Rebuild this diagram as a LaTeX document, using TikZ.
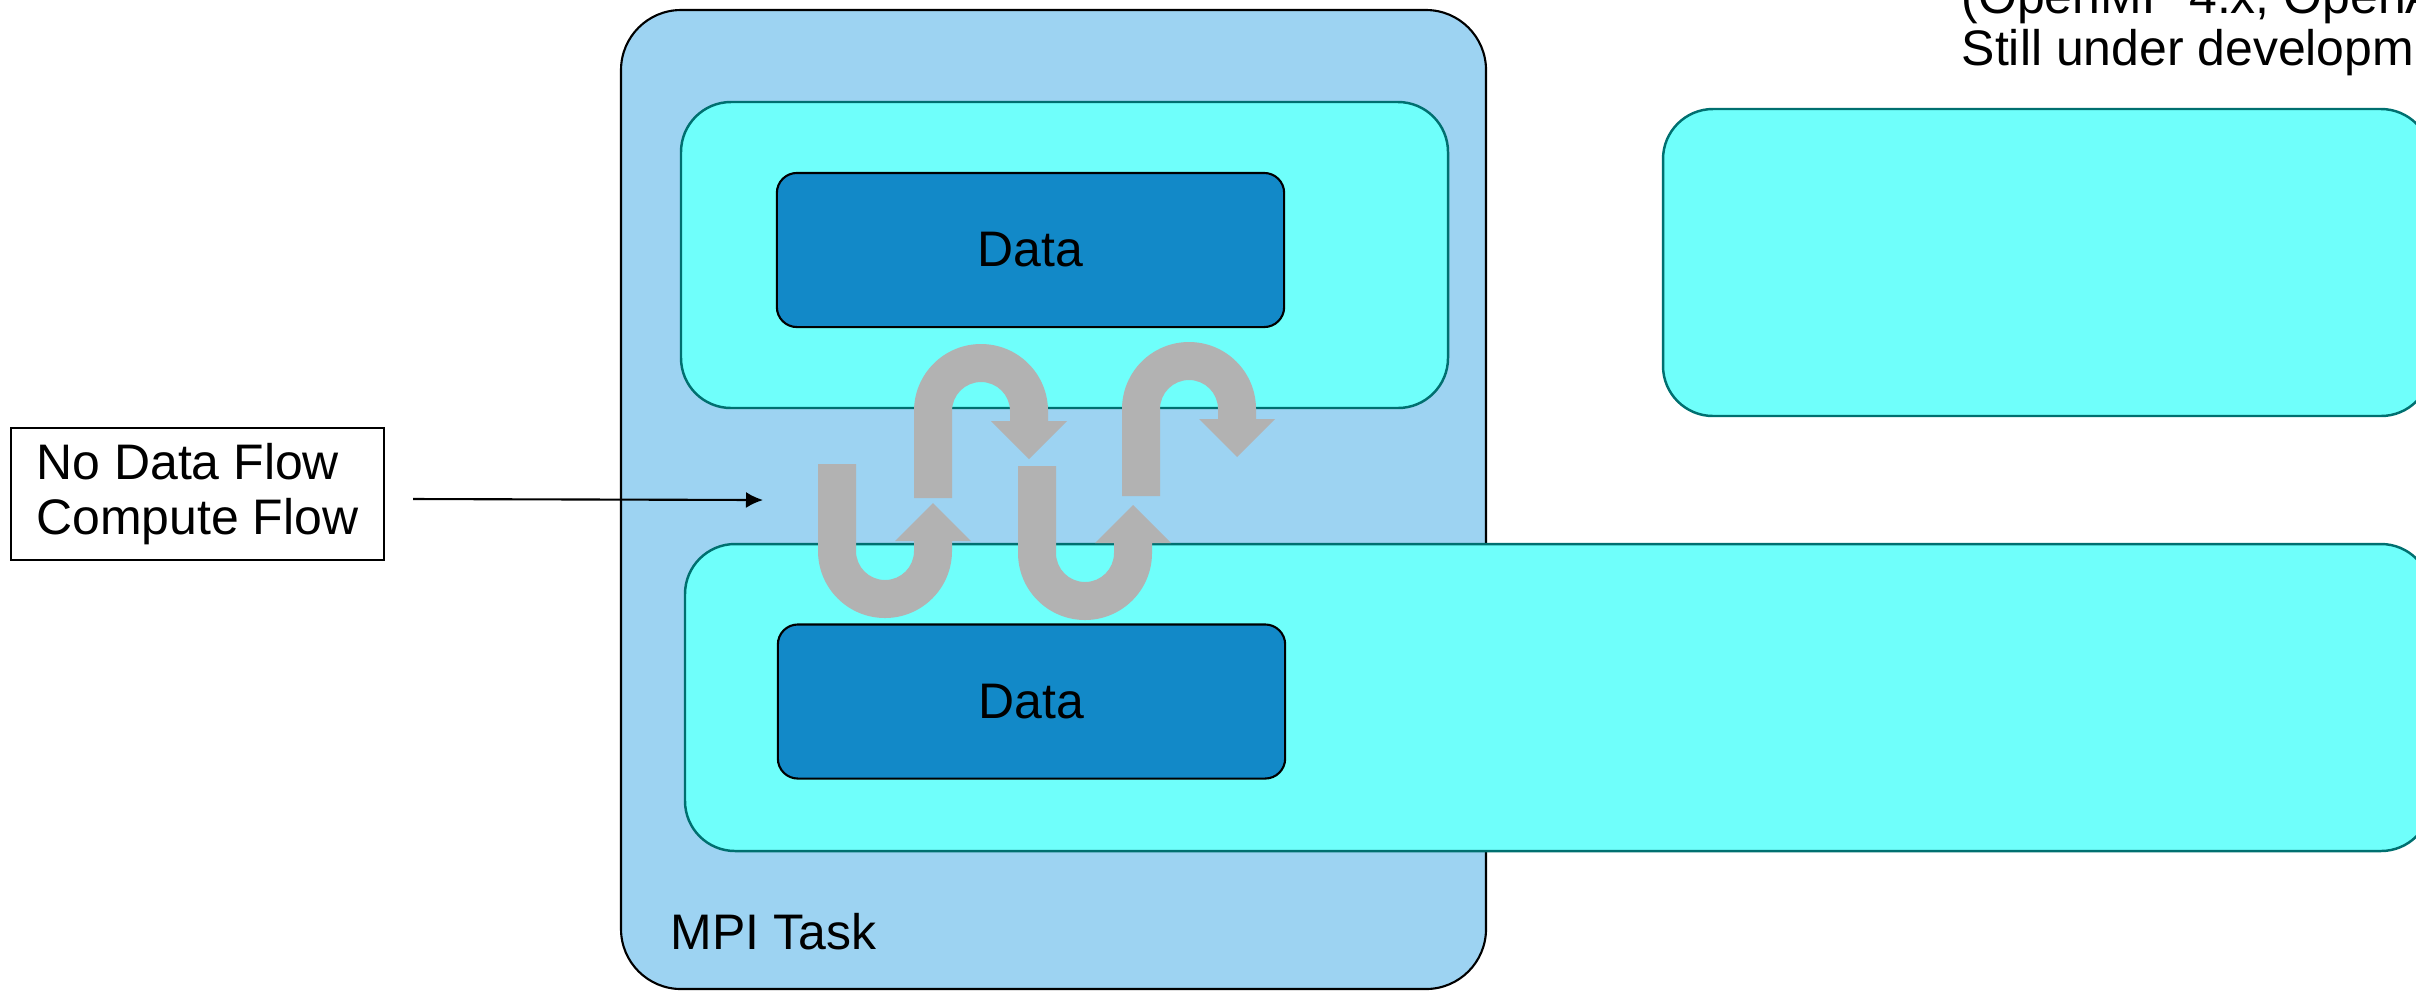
\documentclass[tikz,border=0pt]{standalone}
\usepackage{fontspec}
\setmainfont{Liberation Sans}
\usetikzlibrary{arrows.meta}

\definecolor{taskblue}{RGB}{157,211,242}
\definecolor{coreaqua}{RGB}{111,255,251}
\definecolor{coreedge}{RGB}{0,112,112}
\definecolor{datablue}{RGB}{18,137,200}
\definecolor{flowgray}{RGB}{178,178,178}

\tikzset{
	taskbox/.style={fill=taskblue, draw=black, line width=0.6pt, rounded corners=0.6cm},
	corebox/.style={fill=coreaqua, draw=coreedge, line width=0.7pt, rounded corners=0.5cm},
	databox/.style={fill=datablue, draw=black, line width=0.6pt, rounded corners=0.2cm, minimum width=5.07cm, minimum height=1.54cm, inner sep=0pt},
	plaintext/.style={anchor=base west, inner sep=0pt},
	uturn/.pic={
		\fill[flowgray] (-67,87) -- (-67,0) arc[start angle=180, end angle=360, radius=67] -- (67,10) -- (86,10) -- (48,48) -- (10,10) -- (29,10) -- (29,0) arc[start angle=0, end angle=-180, radius=29] -- (-29,87) -- cycle;
	}
}

\begin{document}
\begin{tikzpicture}[x=0.01cm, y=-0.01cm, font=\fontsize{14.2}{15.6}\selectfont]
	\useasboundingbox (0,0) rectangle (2416,990);
	\draw[taskbox] (621,10) rectangle (1486,989);
	\draw[corebox] (681,102) rectangle (1448,408);
	\draw[corebox] (685,544) rectangle (2431,851);
	\draw[corebox] (1663,109) rectangle (2431,416);
	\node[databox] (dataup) at (1030.5,250) {Data};
	\node[databox] (datadown) at (1031.5,701.5) {Data};
	\node[plaintext] (tasklbl) at (670,949) {MPI Task};
	\node[plaintext] (note1) at (1961,13) {(OpenMP 4.x, OpenACC)};
	\node[plaintext] (note2) at (1961,65) {Still under development};
	\pic[yscale=-1] at (885,551) {uturn};
	\pic at (981,411) {uturn};
	\pic[yscale=-1] at (1085,553) {uturn};
	\pic at (1189,409) {uturn};
	\node[draw=black, line width=0.6pt, align=left, minimum width=3.73cm, minimum height=1.32cm] (flowlbl) at (197.5,494) {No Data Flow\\Compute Flow};
	\coordinate (flowtip) at (763,500);
	\draw[line width=0.6pt, -{Latex[length=0.17cm, width=0.16cm]}] ([shift={(0.28cm,-0.05cm)}]flowlbl.east) -- (flowtip);
\end{tikzpicture}
\end{document}
